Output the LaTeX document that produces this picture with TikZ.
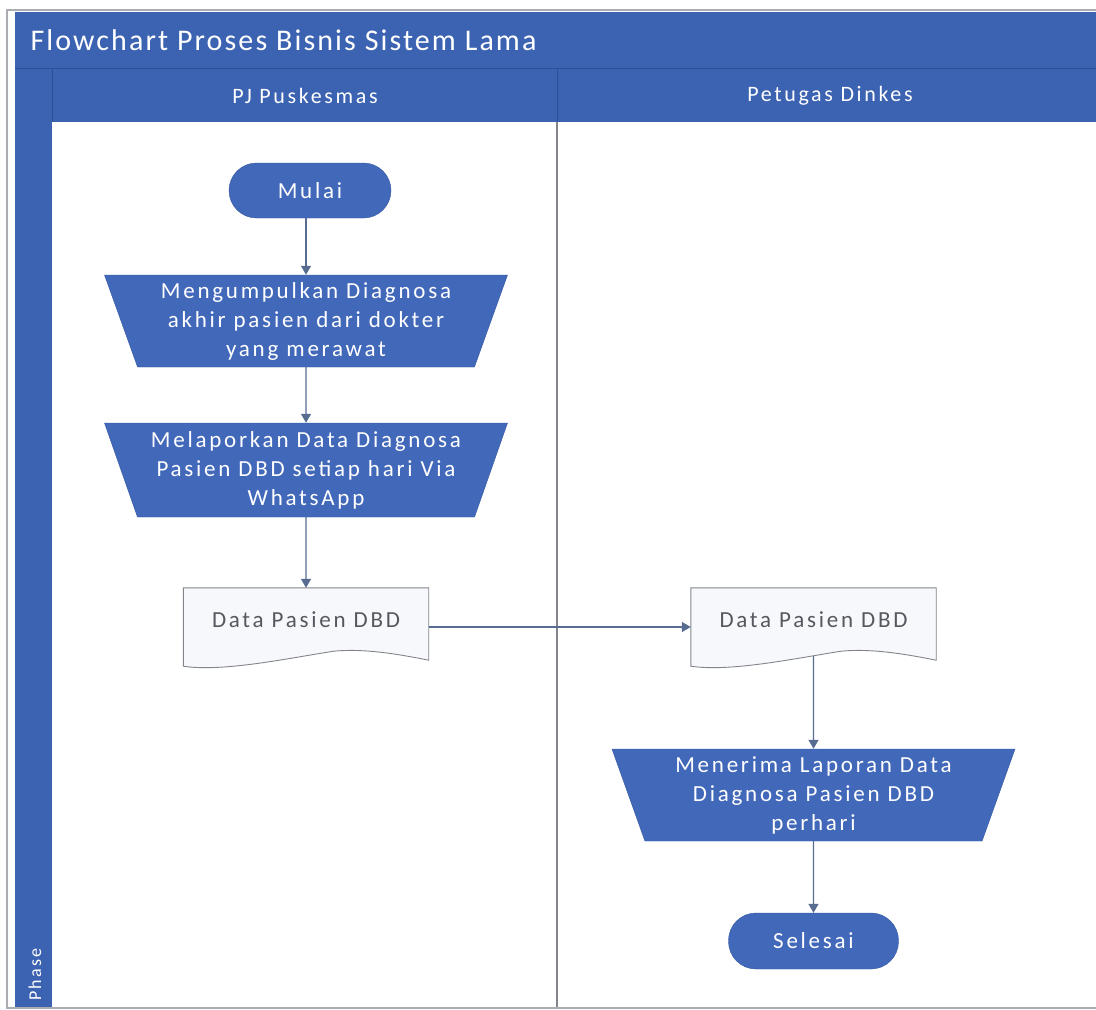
\documentclass[tikz,border=0pt]{standalone}
\usepackage{fontspec}
\setmainfont{Carlito}
\newfontfamily\lblfont[LetterSpace=12]{Carlito}
\newfontfamily\ttlfont[LetterSpace=7]{Carlito}
\usetikzlibrary{shapes.geometric,arrows.meta,calc}

\definecolor{band}{RGB}{60,98,178}
\definecolor{bandline}{RGB}{45,78,150}
\definecolor{shapefill}{RGB}{66,104,186}
\definecolor{shapeline}{RGB}{50,86,160}
\definecolor{docfill}{RGB}{246,248,252}
\definecolor{docline}{RGB}{130,134,140}
\definecolor{flow}{RGB}{88,108,146}
\definecolor{frame}{RGB}{170,172,176}
\definecolor{doctext}{RGB}{85,88,94}

\tikzset{
  body/.style={font=\lblfont\fontsize{23}{29}\selectfont},
  terminal/.style={body, draw=shapeline, fill=shapefill,
    text=white, rounded corners=27.5pt, minimum height=55pt, inner sep=0pt},
  manualop/.style={body, trapezium, shape border rotate=180,
    trapezium left angle=67, trapezium right angle=67, trapezium stretches body=true,
    minimum width=403pt, minimum height=92pt, inner sep=0pt,
    draw=shapeline, fill=shapefill, text=white, align=center},
  docbox/.style={body, rectangle, minimum width=245pt, minimum height=78pt,
    inner sep=0pt, text=doctext},
  flowline/.style={draw=flow, line width=1.4pt, -{Triangle[width=10pt,length=9pt]}},
  header/.style={font=\lblfont\fontsize{22}{26}\selectfont, text=white}
}

% document symbol with a wavy lower edge, drawn around a named box
\newcommand{\docsymbol}[1]{%
  \draw[draw=docline, fill=docfill, line width=0.9pt]
    (#1.north west) -- (#1.north east) -- ($(#1.south east)+(0,-6)$)
    .. controls ($(#1.south east)+(-30,-12)$) and ($(#1.south east)+(-65,-18)$) ..
    ($(#1.south east)+(-95,-15)$)
    .. controls ($(#1.south west)+(105,-8)$) and ($(#1.south west)+(40,6)$) ..
    (#1.south west) -- cycle;
}

\begin{document}
\begin{tikzpicture}[x=1pt,y=-1pt]
  \useasboundingbox (0,0) rectangle (1096,1010);
  \fill[white] (0,0) rectangle (1096,1010);

  % pool: title band, lane headers, phase column
  \fill[band] (15,12) rectangle (1100,122);
  \fill[band] (15,68) rectangle (52,1008);
  \fill[white] (52,122) rectangle (1100,1008);
  \draw[bandline, line width=1pt] (15,68) -- (1100,68);
  \draw[bandline, line width=0.8pt] (52,68) -- (52,122);
  \draw[bandline, line width=0.8pt] (557,68) -- (557,122);
  \draw[docline, line width=1.6pt] (557,122) -- (557,1008);
  \draw[frame, line width=1.5pt] (7,10) rectangle (1102,1008);

  \node[anchor=west, text=white, font=\ttlfont\fontsize{30}{34}\selectfont]
    (title) at (27,40) {Flowchart Proses Bisnis Sistem Lama};
  \node[header] (laneA) at (305,96) {PJ Puskesmas};
  \node[header] (laneB) at (830,96) {Petugas Dinkes};
  \node[rotate=90, anchor=west, text=white, font=\lblfont\fontsize{18}{20}\selectfont]
    (phase) at (35,1004) {Phase};

  % PJ Puskesmas lane
  \node[terminal, minimum width=162pt] (start) at (310,190.5) {Mulai};
  \node[manualop] (collect) at (306,321)
    {Mengumpulkan Diagnosa\\akhir pasien dari dokter\\yang merawat};
  \node[manualop, minimum height=94pt] (report) at (306,470)
    {Melaporkan Data Diagnosa\\Pasien DBD setiap hari Via\\WhatsApp};
  \node[docbox] (docA) at (306,627) {};
  \docsymbol{docA}
  \node[body, text=doctext] (docAtxt) at (306,620) {Data Pasien DBD};

  % Petugas Dinkes lane
  \node[docbox] (docB) at (813.5,627) {};
  \docsymbol{docB}
  \node[body, text=doctext] (docBtxt) at (813.5,620) {Data Pasien DBD};
  \node[manualop] (receive) at (813.5,795)
    {Menerima Laporan Data\\Diagnosa Pasien DBD\\perhari};
  \node[terminal, minimum width=170pt, minimum height=56pt] (stop) at (813.5,941) {Selesai};

  % connectors
  \draw[flowline] (start.south -| collect.north) -- (collect.north);
  \draw[flowline] (collect.south) -- (report.north);
  \draw[flowline] (report.south) -- (docA.north);
  \draw[flowline] (docA.east) -- (docB.west);
  \draw[flowline] ($(docB.south)+(0,-10)$) -- (receive.north);
  \draw[flowline] (receive.south) -- (stop.north);
\end{tikzpicture}
\end{document}
